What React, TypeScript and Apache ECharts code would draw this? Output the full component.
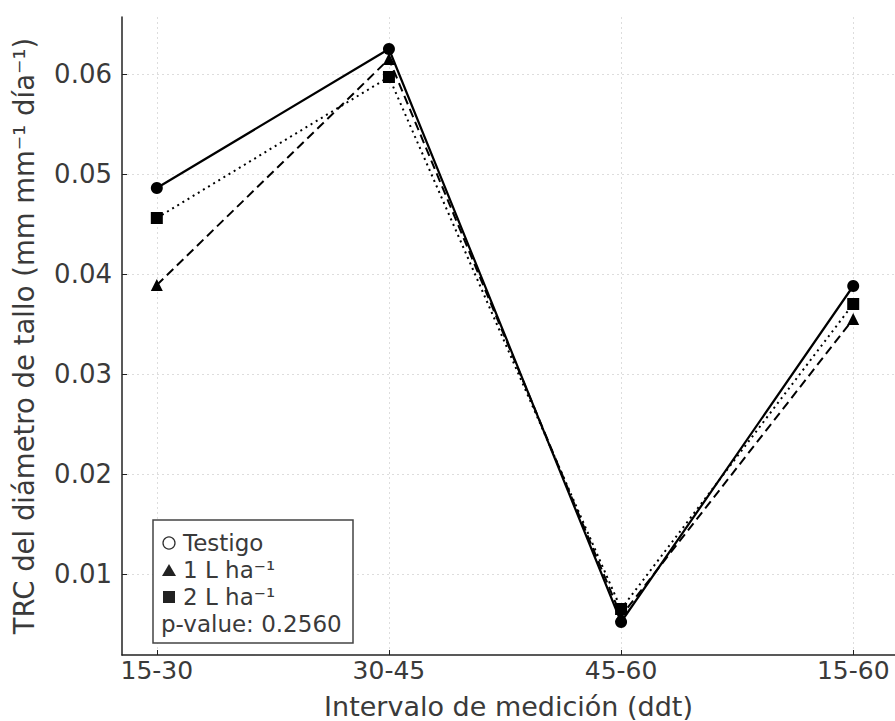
import React, { useEffect, useRef } from "react";
import * as echarts from "echarts";

const categories = ["15-30", "30-45", "45-60", "15-60"];
const testigo = [0.0486, 0.0625, 0.0052, 0.0388];
const dosis1 = [0.0389, 0.0615, 0.0058, 0.0355];
const dosis2 = [0.0456, 0.0597, 0.0065, 0.0370];
const yTicks = [0.01, 0.02, 0.03, 0.04, 0.05, 0.06];
const pValue = "p-value: 0.2560";

const FONT = "DejaVu Sans";
const TXT = "#3a3a3a";

export default function App() {
  const ref = useRef<HTMLDivElement>(null);
  useEffect(() => {
    if (!ref.current) return;
    const chart = echarts.init(ref.current, null, { renderer: "svg" });
    const xIdx = categories.map((_, i) => i);
    const mk = (vals: number[]) => vals.map((v, i) => [i, v]);
    const lineBase = {
      type: "line" as const,
      color: "#000",
      z: 3,
    };
    chart.setOption({
      animation: false,
      grid: { left: 122, top: 17, right: 0, bottom: 66, containLabel: false, outerBoundsMode: "none" },
      xAxis: {
        type: "value",
        min: -0.15,
        max: 3.18,
        name: "Intervalo de medición (ddt)",
        nameLocation: "middle",
        nameGap: 38,
        nameTextStyle: { fontFamily: FONT, fontSize: 27, color: TXT },
        axisLine: { show: true, onZero: false, lineStyle: { color: "#222", width: 1.5 } },
        axisTick: { show: true, inside: true, length: 5, customValues: xIdx, lineStyle: { color: "#222" } },
        axisLabel: {
          customValues: xIdx,
          formatter: (v: number) => categories[Math.round(v)] ?? "",
          fontFamily: FONT,
          fontSize: 25,
          color: TXT,
          margin: 3,
        },
        splitLine: { show: true, lineStyle: { color: "#ddd", type: [2, 3], width: 1 } },
      },
      yAxis: {
        type: "value",
        min: 0.0019,
        max: 0.0657,
        name: "TRC del diámetro de tallo (mm mm⁻¹ día⁻¹)",
        nameLocation: "middle",
        nameGap: 84,
        nameTextStyle: { fontFamily: FONT, fontSize: 27.5, color: TXT },
        axisLine: { show: true, onZero: false, lineStyle: { color: "#222", width: 1.5 } },
        axisTick: { show: true, inside: true, length: 5, customValues: yTicks, lineStyle: { color: "#222" } },
        axisLabel: {
          customValues: yTicks,
          formatter: (v: number) => v.toFixed(2),
          fontFamily: FONT,
          fontSize: 26,
          color: TXT,
          margin: 10,
        },
        splitLine: { show: true, lineStyle: { color: "#ddd", type: [2, 3], width: 1 } },
      },
      series: [
        {
          ...lineBase,
          name: "2 L ha⁻¹",
          data: mk(dosis2),
          symbol: "rect",
          symbolSize: 12,
          lineStyle: { color: "#000", width: 2, type: [2, 4] },
          itemStyle: { color: "#000" },
        },
        {
          ...lineBase,
          name: "1 L ha⁻¹",
          data: mk(dosis1),
          symbol: "triangle",
          symbolSize: 12,
          lineStyle: { color: "#000", width: 2, type: [9, 5] },
          itemStyle: { color: "#000" },
        },
        {
          ...lineBase,
          name: "Testigo",
          data: mk(testigo),
          symbol: "circle",
          symbolSize: 12,
          lineStyle: { color: "#000", width: 2.2, type: "solid" },
          itemStyle: { color: "#000" },
        },
      ],
      graphic: [
        {
          type: "rect",
          shape: { x: 153, y: 520, width: 200, height: 123 },
          style: { fill: "#fff", stroke: "#444", lineWidth: 1.5 },
          z: 10,
        },
        { type: "circle", shape: { cx: 169, cy: 543, r: 6 }, style: { fill: "#fff", stroke: "#333", lineWidth: 1.3 }, z: 11 },
        { type: "polygon", shape: { points: [[169, 564], [162, 576], [176, 576]] }, style: { fill: "#222" }, z: 11 },
        { type: "rect", shape: { x: 163, y: 591, width: 12, height: 12 }, style: { fill: "#222" }, z: 11 },
        { type: "text", x: 183, y: 543, style: { text: "Testigo", fontFamily: FONT, fontSize: 23, fill: TXT, verticalAlign: "middle" }, z: 11 },
        { type: "text", x: 183, y: 570, style: { text: "1 L ha⁻¹", fontFamily: FONT, fontSize: 23, fill: TXT, verticalAlign: "middle" }, z: 11 },
        { type: "text", x: 183, y: 597, style: { text: "2 L ha⁻¹", fontFamily: FONT, fontSize: 23, fill: TXT, verticalAlign: "middle" }, z: 11 },
        { type: "text", x: 161, y: 624, style: { text: pValue, fontFamily: FONT, fontSize: 23, fill: TXT, verticalAlign: "middle" }, z: 11 },
      ],
    });
    return () => chart.dispose();
  }, []);
  return <div ref={ref} style={{ width: 895, height: 721, position: "absolute", left: 0, top: 0 }} />;
}
